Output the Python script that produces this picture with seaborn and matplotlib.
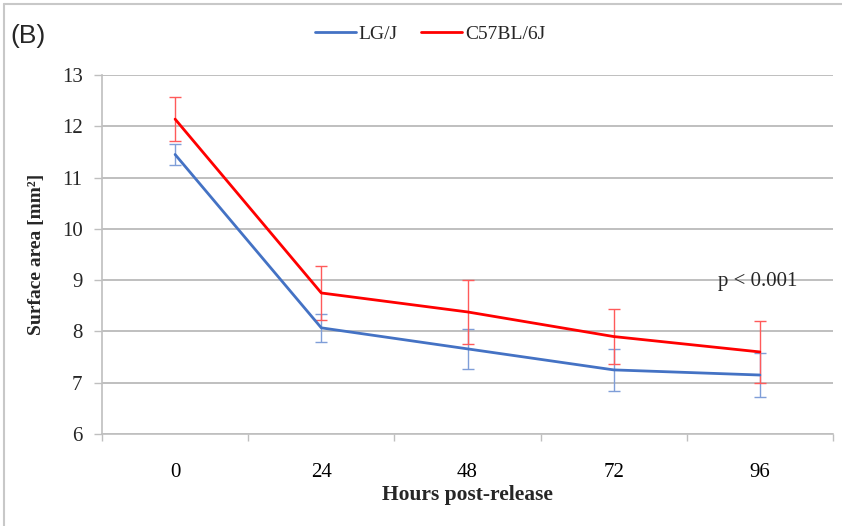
import matplotlib
matplotlib.use("Agg")
import matplotlib.pyplot as plt
import seaborn as sns
import pandas as pd
from matplotlib.lines import Line2D

hours = ["0", "24", "48", "72", "96"]
lgj_mean = [11.45, 8.07, 7.66, 7.25, 7.15]
lgj_err = [0.20, 0.27, 0.39, 0.41, 0.43]
c57_mean = [12.14, 8.75, 8.38, 7.90, 7.60]
c57_err = [0.43, 0.52, 0.63, 0.54, 0.61]
y_ticks = [6, 7, 8, 9, 10, 11, 12, 13]

BLUE = "#4472C4"
RED = "#FF0000"
GRID = "#BFBFBF"

sns.set_theme(style="white")
plt.rcParams["font.family"] = ["Liberation Serif", "DejaVu Serif"]

pos = list(range(len(hours)))
df = pd.DataFrame({
    "pos": pos * 2,
    "value": lgj_mean + c57_mean,
    "strain": ["LG/J"] * len(hours) + ["C57BL/6J"] * len(hours),
})

fig = plt.figure(figsize=(8.42, 5.26), dpi=100)
ax = fig.add_axes([102 / 842, 1 - 434 / 526, (833 - 102) / 842, (434 - 75) / 526])

ax.errorbar(pos, lgj_mean, yerr=lgj_err, fmt="none", ecolor="#7F9ED8",
            elinewidth=1.0, capsize=4, capthick=1.0, zorder=2)
ax.errorbar(pos, c57_mean, yerr=c57_err, fmt="none", ecolor="#FF5A5A",
            elinewidth=1.0, capsize=4, capthick=1.0, zorder=2)
sns.lineplot(data=df, x="pos", y="value", hue="strain",
             palette={"LG/J": BLUE, "C57BL/6J": RED}, linewidth=2.0,
             legend=False, ax=ax, zorder=3)

ax.set_xlim(-0.5, len(hours) - 0.5)
ax.set_ylim(6, 13)
ax.set_yticks(y_ticks)
ax.set_yticklabels([str(t) for t in y_ticks])
ax.set_xticks(pos)
ax.set_xticklabels(hours)
ax.set_xticks([p - 0.5 for p in pos] + [len(hours) - 0.5], minor=True)
ax.tick_params(axis="x", which="major", length=0, labelsize=15, pad=21, colors="black")
ax.tick_params(axis="x", which="minor", length=5, width=1.0, color=GRID, direction="out", bottom=True)
ax.tick_params(axis="y", which="major", length=6, width=1.0, color=GRID, labelsize=15, pad=8,
               left=True, direction="out")
ax.yaxis.grid(True, color=GRID, linewidth=1.4)
ax.set_axisbelow(True)
for s in ["top", "right"]:
    ax.spines[s].set_visible(False)
for s in ["left", "bottom"]:
    ax.spines[s].set_color(GRID)
    ax.spines[s].set_linewidth(1.2)

ax.set_xlabel("Hours post-release", fontsize=15.5, fontweight="bold", labelpad=2)
ax.set_ylabel("Surface area [mm²]", fontsize=14, fontweight="bold", labelpad=12)

ax.text(3.71, 8.98, "p < 0.001", fontsize=15, va="center", ha="left")

handles = [Line2D([], [], color=BLUE, linewidth=2.0), Line2D([], [], color=RED, linewidth=2.0)]
fig.legend(handles, ["LG/J", "C57BL/6J"], loc="center", bbox_to_anchor=(430 / 842, 1 - 34 / 526),
           ncol=2, frameon=False, fontsize=14, handlelength=2.1, handletextpad=0.15,
           columnspacing=1.2)

fig.text(10 / 842, 1 - 36 / 526, "(B)", fontsize=19, family="Liberation Sans", va="center", ha="left")

fig.add_artist(Line2D([4 / 842, 4 / 842], [0, 1 - 4 / 526], transform=fig.transFigure,
                      color="#C8C8C8", linewidth=1.5))
fig.add_artist(Line2D([4 / 842, 1], [1 - 4 / 526, 1 - 4 / 526], transform=fig.transFigure,
                      color="#C8C8C8", linewidth=1.5))

fig.savefig("out.png", dpi=100, facecolor="white")
